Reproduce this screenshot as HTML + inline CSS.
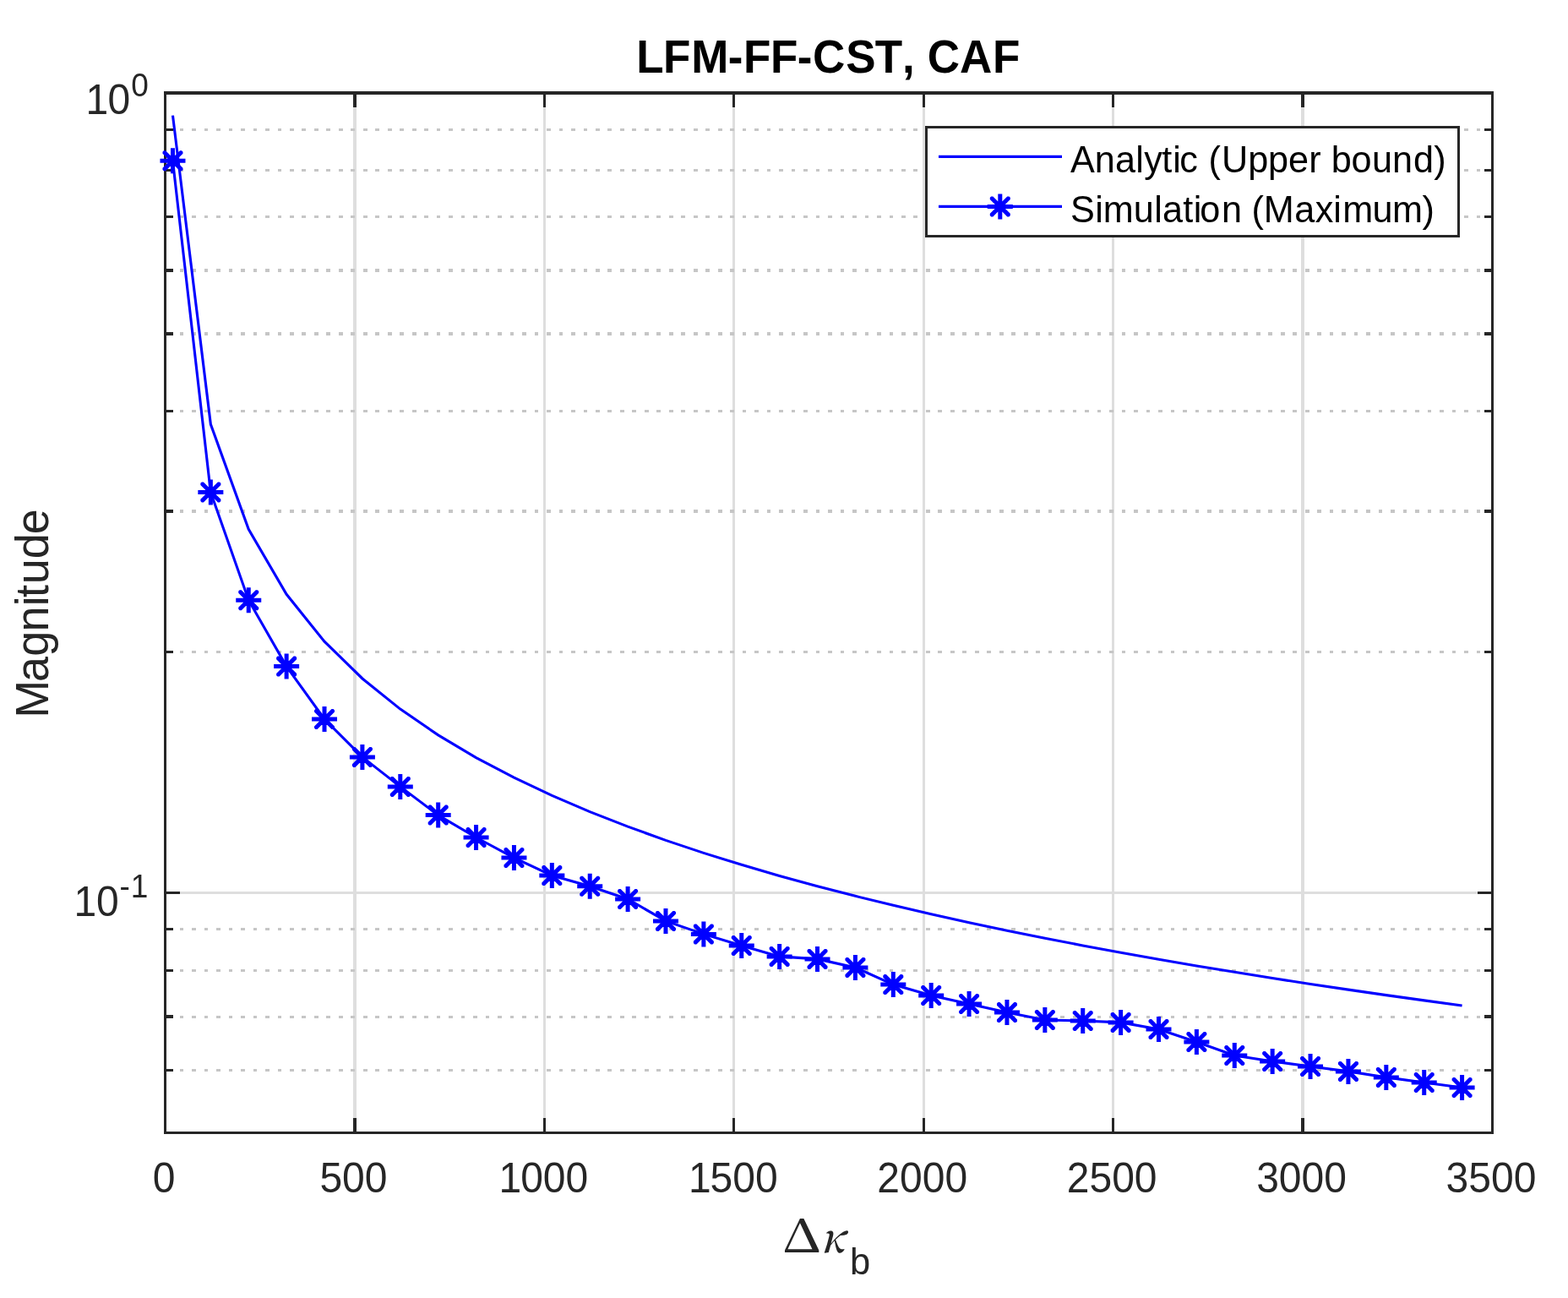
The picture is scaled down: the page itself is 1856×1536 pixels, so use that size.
<!DOCTYPE html>
<html><head><meta charset="utf-8"><title>LFM-FF-CST, CAF</title>
<style>html,body{margin:0;padding:0;background:#fff;}svg{display:block;}</style>
</head><body>
<svg width="1856" height="1536" viewBox="0 0 1856 1536">
<rect x="0" y="0" width="1856" height="1536" fill="#ffffff"/>
<g shape-rendering="crispEdges">
<line x1="419.93" y1="110" x2="419.93" y2="1340.5" stroke="#dedede" stroke-width="3.2"/>
<line x1="644.36" y1="110" x2="644.36" y2="1340.5" stroke="#dedede" stroke-width="3.2"/>
<line x1="868.79" y1="110" x2="868.79" y2="1340.5" stroke="#dedede" stroke-width="3.2"/>
<line x1="1093.21" y1="110" x2="1093.21" y2="1340.5" stroke="#dedede" stroke-width="3.2"/>
<line x1="1317.64" y1="110" x2="1317.64" y2="1340.5" stroke="#dedede" stroke-width="3.2"/>
<line x1="1542.07" y1="110" x2="1542.07" y2="1340.5" stroke="#dedede" stroke-width="3.2"/>
<line x1="195.5" y1="1056.5" x2="1766.5" y2="1056.5" stroke="#dedede" stroke-width="3.2"/>
<line x1="195.5" y1="153.31" x2="1766.5" y2="153.31" stroke="#c6c6c6" stroke-width="3.2" stroke-dasharray="4.7 9.78" stroke-dashoffset="11.78"/>
<line x1="195.5" y1="201.73" x2="1766.5" y2="201.73" stroke="#c6c6c6" stroke-width="3.2" stroke-dasharray="4.7 9.78" stroke-dashoffset="11.78"/>
<line x1="195.5" y1="256.61" x2="1766.5" y2="256.61" stroke="#c6c6c6" stroke-width="3.2" stroke-dasharray="4.7 9.78" stroke-dashoffset="11.78"/>
<line x1="195.5" y1="319.98" x2="1766.5" y2="319.98" stroke="#c6c6c6" stroke-width="3.2" stroke-dasharray="4.7 9.78" stroke-dashoffset="11.78"/>
<line x1="195.5" y1="394.92" x2="1766.5" y2="394.92" stroke="#c6c6c6" stroke-width="3.2" stroke-dasharray="4.7 9.78" stroke-dashoffset="11.78"/>
<line x1="195.5" y1="486.65" x2="1766.5" y2="486.65" stroke="#c6c6c6" stroke-width="3.2" stroke-dasharray="4.7 9.78" stroke-dashoffset="11.78"/>
<line x1="195.5" y1="604.9" x2="1766.5" y2="604.9" stroke="#c6c6c6" stroke-width="3.2" stroke-dasharray="4.7 9.78" stroke-dashoffset="11.78"/>
<line x1="195.5" y1="771.58" x2="1766.5" y2="771.58" stroke="#c6c6c6" stroke-width="3.2" stroke-dasharray="4.7 9.78" stroke-dashoffset="11.78"/>
<line x1="195.5" y1="1099.81" x2="1766.5" y2="1099.81" stroke="#c6c6c6" stroke-width="3.2" stroke-dasharray="4.7 9.78" stroke-dashoffset="11.78"/>
<line x1="195.5" y1="1148.23" x2="1766.5" y2="1148.23" stroke="#c6c6c6" stroke-width="3.2" stroke-dasharray="4.7 9.78" stroke-dashoffset="11.78"/>
<line x1="195.5" y1="1203.11" x2="1766.5" y2="1203.11" stroke="#c6c6c6" stroke-width="3.2" stroke-dasharray="4.7 9.78" stroke-dashoffset="11.78"/>
<line x1="195.5" y1="1266.48" x2="1766.5" y2="1266.48" stroke="#c6c6c6" stroke-width="3.2" stroke-dasharray="4.7 9.78" stroke-dashoffset="11.78"/>
<rect x="195.5" y="110" width="1571" height="1230.5" fill="none" stroke="#262626" stroke-width="3"/>
<line x1="194" y1="110.0" x2="1768" y2="110.0" stroke="#262626" stroke-width="3.8"/>
<line x1="195.5" y1="1340.5" x2="195.5" y2="1323.2" stroke="#262626" stroke-width="3.3"/>
<line x1="195.5" y1="110" x2="195.5" y2="127.3" stroke="#262626" stroke-width="3.3"/>
<line x1="419.93" y1="1340.5" x2="419.93" y2="1323.2" stroke="#262626" stroke-width="3.3"/>
<line x1="419.93" y1="110" x2="419.93" y2="127.3" stroke="#262626" stroke-width="3.3"/>
<line x1="644.36" y1="1340.5" x2="644.36" y2="1323.2" stroke="#262626" stroke-width="3.3"/>
<line x1="644.36" y1="110" x2="644.36" y2="127.3" stroke="#262626" stroke-width="3.3"/>
<line x1="868.79" y1="1340.5" x2="868.79" y2="1323.2" stroke="#262626" stroke-width="3.3"/>
<line x1="868.79" y1="110" x2="868.79" y2="127.3" stroke="#262626" stroke-width="3.3"/>
<line x1="1093.21" y1="1340.5" x2="1093.21" y2="1323.2" stroke="#262626" stroke-width="3.3"/>
<line x1="1093.21" y1="110" x2="1093.21" y2="127.3" stroke="#262626" stroke-width="3.3"/>
<line x1="1317.64" y1="1340.5" x2="1317.64" y2="1323.2" stroke="#262626" stroke-width="3.3"/>
<line x1="1317.64" y1="110" x2="1317.64" y2="127.3" stroke="#262626" stroke-width="3.3"/>
<line x1="1542.07" y1="1340.5" x2="1542.07" y2="1323.2" stroke="#262626" stroke-width="3.3"/>
<line x1="1542.07" y1="110" x2="1542.07" y2="127.3" stroke="#262626" stroke-width="3.3"/>
<line x1="1766.5" y1="1340.5" x2="1766.5" y2="1323.2" stroke="#262626" stroke-width="3.3"/>
<line x1="1766.5" y1="110" x2="1766.5" y2="127.3" stroke="#262626" stroke-width="3.3"/>
<line x1="195.5" y1="1056.5" x2="212.8" y2="1056.5" stroke="#262626" stroke-width="3.3"/>
<line x1="1766.5" y1="1056.5" x2="1749.2" y2="1056.5" stroke="#262626" stroke-width="3.3"/>
<line x1="195.5" y1="153.31" x2="204.8" y2="153.31" stroke="#262626" stroke-width="3.3"/>
<line x1="1766.5" y1="153.31" x2="1757.2" y2="153.31" stroke="#262626" stroke-width="3.3"/>
<line x1="195.5" y1="201.73" x2="204.8" y2="201.73" stroke="#262626" stroke-width="3.3"/>
<line x1="1766.5" y1="201.73" x2="1757.2" y2="201.73" stroke="#262626" stroke-width="3.3"/>
<line x1="195.5" y1="256.61" x2="204.8" y2="256.61" stroke="#262626" stroke-width="3.3"/>
<line x1="1766.5" y1="256.61" x2="1757.2" y2="256.61" stroke="#262626" stroke-width="3.3"/>
<line x1="195.5" y1="319.98" x2="204.8" y2="319.98" stroke="#262626" stroke-width="3.3"/>
<line x1="1766.5" y1="319.98" x2="1757.2" y2="319.98" stroke="#262626" stroke-width="3.3"/>
<line x1="195.5" y1="394.92" x2="204.8" y2="394.92" stroke="#262626" stroke-width="3.3"/>
<line x1="1766.5" y1="394.92" x2="1757.2" y2="394.92" stroke="#262626" stroke-width="3.3"/>
<line x1="195.5" y1="486.65" x2="204.8" y2="486.65" stroke="#262626" stroke-width="3.3"/>
<line x1="1766.5" y1="486.65" x2="1757.2" y2="486.65" stroke="#262626" stroke-width="3.3"/>
<line x1="195.5" y1="604.9" x2="204.8" y2="604.9" stroke="#262626" stroke-width="3.3"/>
<line x1="1766.5" y1="604.9" x2="1757.2" y2="604.9" stroke="#262626" stroke-width="3.3"/>
<line x1="195.5" y1="771.58" x2="204.8" y2="771.58" stroke="#262626" stroke-width="3.3"/>
<line x1="1766.5" y1="771.58" x2="1757.2" y2="771.58" stroke="#262626" stroke-width="3.3"/>
<line x1="195.5" y1="1099.81" x2="204.8" y2="1099.81" stroke="#262626" stroke-width="3.3"/>
<line x1="1766.5" y1="1099.81" x2="1757.2" y2="1099.81" stroke="#262626" stroke-width="3.3"/>
<line x1="195.5" y1="1148.23" x2="204.8" y2="1148.23" stroke="#262626" stroke-width="3.3"/>
<line x1="1766.5" y1="1148.23" x2="1757.2" y2="1148.23" stroke="#262626" stroke-width="3.3"/>
<line x1="195.5" y1="1203.11" x2="204.8" y2="1203.11" stroke="#262626" stroke-width="3.3"/>
<line x1="1766.5" y1="1203.11" x2="1757.2" y2="1203.11" stroke="#262626" stroke-width="3.3"/>
<line x1="195.5" y1="1266.48" x2="204.8" y2="1266.48" stroke="#262626" stroke-width="3.3"/>
<line x1="1766.5" y1="1266.48" x2="1757.2" y2="1266.48" stroke="#262626" stroke-width="3.3"/>
</g>
<polyline points="204.48,136.57 249.36,502.03 294.25,626.35 339.13,703.26 384.02,759.1 428.91,802.97 473.79,839.1 518.68,869.82 563.56,896.53 608.45,920.18 653.33,941.38 698.22,960.59 743.11,978.17 787.99,994.35 832.88,1009.36 877.76,1023.34 922.65,1036.43 967.53,1048.74 1012.42,1060.36 1057.31,1071.35 1102.19,1081.78 1147.08,1091.71 1191.96,1101.18 1236.85,1110.24 1281.73,1118.91 1326.62,1127.23 1371.51,1135.23 1416.39,1142.92 1461.28,1150.34 1506.16,1157.51 1551.05,1164.43 1595.93,1171.12 1640.82,1177.6 1685.71,1183.89 1730.59,1189.99" fill="none" stroke="#0000ff" stroke-width="3.1" stroke-linejoin="miter"/>
<polyline points="204.48,190.3 249.36,582.4 294.25,710.2 339.13,788.6 384.02,851 428.91,895.9 473.79,930.9 518.68,964.6 563.56,991 608.45,1015 653.33,1036.1 698.22,1048.8 743.11,1064 787.99,1089.9 832.88,1105.4 877.76,1119 922.65,1131.9 967.53,1134.9 1012.42,1144.9 1057.31,1165.1 1102.19,1178 1147.08,1188 1191.96,1198.1 1236.85,1207 1281.73,1208 1326.62,1209.9 1371.51,1218 1416.39,1233 1461.28,1249 1506.16,1256 1551.05,1262 1595.93,1267.9 1640.82,1274.9 1685.71,1281 1730.59,1287" fill="none" stroke="#0000ff" stroke-width="3.1" stroke-linejoin="miter"/>
<path d="M189.48 187.8H219.48V192.8H189.48ZM201.98 175.3H206.98V205.3H201.98ZM192.48 181.84L192.48 179.7L193.88 178.3L196.01 178.3L216.48 198.76L216.48 200.9L215.08 202.3L212.94 202.3ZM196.01 202.3L193.88 202.3L192.48 200.9L192.48 198.76L212.94 178.3L215.08 178.3L216.48 179.7L216.48 181.84ZM234.36 579.9H264.36V584.9H234.36ZM246.86 567.4H251.86V597.4H246.86ZM237.36 573.94L237.36 571.8L238.76 570.4L240.9 570.4L261.36 590.86L261.36 593L259.96 594.4L257.83 594.4ZM240.9 594.4L238.76 594.4L237.36 593L237.36 590.86L257.83 570.4L259.96 570.4L261.36 571.8L261.36 573.94ZM279.25 707.7H309.25V712.7H279.25ZM291.75 695.2H296.75V725.2H291.75ZM282.25 701.74L282.25 699.6L283.65 698.2L285.78 698.2L306.25 718.66L306.25 720.8L304.85 722.2L302.71 722.2ZM285.78 722.2L283.65 722.2L282.25 720.8L282.25 718.66L302.71 698.2L304.85 698.2L306.25 699.6L306.25 701.74ZM324.13 786.1H354.13V791.1H324.13ZM336.63 773.6H341.63V803.6H336.63ZM327.13 780.14L327.13 778L328.53 776.6L330.67 776.6L351.13 797.06L351.13 799.2L349.73 800.6L347.6 800.6ZM330.67 800.6L328.53 800.6L327.13 799.2L327.13 797.06L347.6 776.6L349.73 776.6L351.13 778L351.13 780.14ZM369.02 848.5H399.02V853.5H369.02ZM381.52 836H386.52V866H381.52ZM372.02 842.54L372.02 840.4L373.42 839L375.56 839L396.02 859.46L396.02 861.6L394.62 863L392.48 863ZM375.56 863L373.42 863L372.02 861.6L372.02 859.46L392.48 839L394.62 839L396.02 840.4L396.02 842.54ZM413.91 893.4H443.91V898.4H413.91ZM426.41 880.9H431.41V910.9H426.41ZM416.91 887.44L416.91 885.3L418.31 883.9L420.44 883.9L440.91 904.36L440.91 906.5L439.51 907.9L437.37 907.9ZM420.44 907.9L418.31 907.9L416.91 906.5L416.91 904.36L437.37 883.9L439.51 883.9L440.91 885.3L440.91 887.44ZM458.79 928.4H488.79V933.4H458.79ZM471.29 915.9H476.29V945.9H471.29ZM461.79 922.44L461.79 920.3L463.19 918.9L465.33 918.9L485.79 939.36L485.79 941.5L484.39 942.9L482.26 942.9ZM465.33 942.9L463.19 942.9L461.79 941.5L461.79 939.36L482.26 918.9L484.39 918.9L485.79 920.3L485.79 922.44ZM503.68 962.1H533.68V967.1H503.68ZM516.18 949.6H521.18V979.6H516.18ZM506.68 956.14L506.68 954L508.08 952.6L510.21 952.6L530.68 973.06L530.68 975.2L529.28 976.6L527.14 976.6ZM510.21 976.6L508.08 976.6L506.68 975.2L506.68 973.06L527.14 952.6L529.28 952.6L530.68 954L530.68 956.14ZM548.56 988.5H578.56V993.5H548.56ZM561.06 976H566.06V1006H561.06ZM551.56 982.54L551.56 980.4L552.96 979L555.1 979L575.56 999.46L575.56 1001.6L574.16 1003L572.03 1003ZM555.1 1003L552.96 1003L551.56 1001.6L551.56 999.46L572.03 979L574.16 979L575.56 980.4L575.56 982.54ZM593.45 1012.5H623.45V1017.5H593.45ZM605.95 1000H610.95V1030H605.95ZM596.45 1006.54L596.45 1004.4L597.85 1003L599.98 1003L620.45 1023.46L620.45 1025.6L619.05 1027L616.91 1027ZM599.98 1027L597.85 1027L596.45 1025.6L596.45 1023.46L616.91 1003L619.05 1003L620.45 1004.4L620.45 1006.54ZM638.33 1033.6H668.33V1038.6H638.33ZM650.83 1021.1H655.83V1051.1H650.83ZM641.33 1027.64L641.33 1025.5L642.73 1024.1L644.87 1024.1L665.33 1044.56L665.33 1046.7L663.93 1048.1L661.8 1048.1ZM644.87 1048.1L642.73 1048.1L641.33 1046.7L641.33 1044.56L661.8 1024.1L663.93 1024.1L665.33 1025.5L665.33 1027.64ZM683.22 1046.3H713.22V1051.3H683.22ZM695.72 1033.8H700.72V1063.8H695.72ZM686.22 1040.34L686.22 1038.2L687.62 1036.8L689.76 1036.8L710.22 1057.26L710.22 1059.4L708.82 1060.8L706.68 1060.8ZM689.76 1060.8L687.62 1060.8L686.22 1059.4L686.22 1057.26L706.68 1036.8L708.82 1036.8L710.22 1038.2L710.22 1040.34ZM728.11 1061.5H758.11V1066.5H728.11ZM740.61 1049H745.61V1079H740.61ZM731.11 1055.54L731.11 1053.4L732.51 1052L734.64 1052L755.11 1072.46L755.11 1074.6L753.71 1076L751.57 1076ZM734.64 1076L732.51 1076L731.11 1074.6L731.11 1072.46L751.57 1052L753.71 1052L755.11 1053.4L755.11 1055.54ZM772.99 1087.4H802.99V1092.4H772.99ZM785.49 1074.9H790.49V1104.9H785.49ZM775.99 1081.44L775.99 1079.3L777.39 1077.9L779.53 1077.9L799.99 1098.36L799.99 1100.5L798.59 1101.9L796.46 1101.9ZM779.53 1101.9L777.39 1101.9L775.99 1100.5L775.99 1098.36L796.46 1077.9L798.59 1077.9L799.99 1079.3L799.99 1081.44ZM817.88 1102.9H847.88V1107.9H817.88ZM830.38 1090.4H835.38V1120.4H830.38ZM820.88 1096.94L820.88 1094.8L822.28 1093.4L824.41 1093.4L844.88 1113.86L844.88 1116L843.48 1117.4L841.34 1117.4ZM824.41 1117.4L822.28 1117.4L820.88 1116L820.88 1113.86L841.34 1093.4L843.48 1093.4L844.88 1094.8L844.88 1096.94ZM862.76 1116.5H892.76V1121.5H862.76ZM875.26 1104H880.26V1134H875.26ZM865.76 1110.54L865.76 1108.4L867.16 1107L869.3 1107L889.76 1127.46L889.76 1129.6L888.36 1131L886.23 1131ZM869.3 1131L867.16 1131L865.76 1129.6L865.76 1127.46L886.23 1107L888.36 1107L889.76 1108.4L889.76 1110.54ZM907.65 1129.4H937.65V1134.4H907.65ZM920.15 1116.9H925.15V1146.9H920.15ZM910.65 1123.44L910.65 1121.3L912.05 1119.9L914.18 1119.9L934.65 1140.36L934.65 1142.5L933.25 1143.9L931.11 1143.9ZM914.18 1143.9L912.05 1143.9L910.65 1142.5L910.65 1140.36L931.11 1119.9L933.25 1119.9L934.65 1121.3L934.65 1123.44ZM952.53 1132.4H982.53V1137.4H952.53ZM965.03 1119.9H970.03V1149.9H965.03ZM955.53 1126.44L955.53 1124.3L956.93 1122.9L959.07 1122.9L979.53 1143.36L979.53 1145.5L978.13 1146.9L976 1146.9ZM959.07 1146.9L956.93 1146.9L955.53 1145.5L955.53 1143.36L976 1122.9L978.13 1122.9L979.53 1124.3L979.53 1126.44ZM997.42 1142.4H1027.42V1147.4H997.42ZM1009.92 1129.9H1014.92V1159.9H1009.92ZM1000.42 1136.44L1000.42 1134.3L1001.82 1132.9L1003.96 1132.9L1024.42 1153.36L1024.42 1155.5L1023.02 1156.9L1020.88 1156.9ZM1003.96 1156.9L1001.82 1156.9L1000.42 1155.5L1000.42 1153.36L1020.88 1132.9L1023.02 1132.9L1024.42 1134.3L1024.42 1136.44ZM1042.31 1162.6H1072.31V1167.6H1042.31ZM1054.81 1150.1H1059.81V1180.1H1054.81ZM1045.31 1156.64L1045.31 1154.5L1046.71 1153.1L1048.84 1153.1L1069.31 1173.56L1069.31 1175.7L1067.91 1177.1L1065.77 1177.1ZM1048.84 1177.1L1046.71 1177.1L1045.31 1175.7L1045.31 1173.56L1065.77 1153.1L1067.91 1153.1L1069.31 1154.5L1069.31 1156.64ZM1087.19 1175.5H1117.19V1180.5H1087.19ZM1099.69 1163H1104.69V1193H1099.69ZM1090.19 1169.54L1090.19 1167.4L1091.59 1166L1093.73 1166L1114.19 1186.46L1114.19 1188.6L1112.79 1190L1110.66 1190ZM1093.73 1190L1091.59 1190L1090.19 1188.6L1090.19 1186.46L1110.66 1166L1112.79 1166L1114.19 1167.4L1114.19 1169.54ZM1132.08 1185.5H1162.08V1190.5H1132.08ZM1144.58 1173H1149.58V1203H1144.58ZM1135.08 1179.54L1135.08 1177.4L1136.48 1176L1138.61 1176L1159.08 1196.46L1159.08 1198.6L1157.68 1200L1155.54 1200ZM1138.61 1200L1136.48 1200L1135.08 1198.6L1135.08 1196.46L1155.54 1176L1157.68 1176L1159.08 1177.4L1159.08 1179.54ZM1176.96 1195.6H1206.96V1200.6H1176.96ZM1189.46 1183.1H1194.46V1213.1H1189.46ZM1179.96 1189.64L1179.96 1187.5L1181.36 1186.1L1183.5 1186.1L1203.96 1206.56L1203.96 1208.7L1202.56 1210.1L1200.43 1210.1ZM1183.5 1210.1L1181.36 1210.1L1179.96 1208.7L1179.96 1206.56L1200.43 1186.1L1202.56 1186.1L1203.96 1187.5L1203.96 1189.64ZM1221.85 1204.5H1251.85V1209.5H1221.85ZM1234.35 1192H1239.35V1222H1234.35ZM1224.85 1198.54L1224.85 1196.4L1226.25 1195L1228.38 1195L1248.85 1215.46L1248.85 1217.6L1247.45 1219L1245.31 1219ZM1228.38 1219L1226.25 1219L1224.85 1217.6L1224.85 1215.46L1245.31 1195L1247.45 1195L1248.85 1196.4L1248.85 1198.54ZM1266.73 1205.5H1296.73V1210.5H1266.73ZM1279.23 1193H1284.23V1223H1279.23ZM1269.73 1199.54L1269.73 1197.4L1271.13 1196L1273.27 1196L1293.73 1216.46L1293.73 1218.6L1292.33 1220L1290.2 1220ZM1273.27 1220L1271.13 1220L1269.73 1218.6L1269.73 1216.46L1290.2 1196L1292.33 1196L1293.73 1197.4L1293.73 1199.54ZM1311.62 1207.4H1341.62V1212.4H1311.62ZM1324.12 1194.9H1329.12V1224.9H1324.12ZM1314.62 1201.44L1314.62 1199.3L1316.02 1197.9L1318.16 1197.9L1338.62 1218.36L1338.62 1220.5L1337.22 1221.9L1335.08 1221.9ZM1318.16 1221.9L1316.02 1221.9L1314.62 1220.5L1314.62 1218.36L1335.08 1197.9L1337.22 1197.9L1338.62 1199.3L1338.62 1201.44ZM1356.51 1215.5H1386.51V1220.5H1356.51ZM1369.01 1203H1374.01V1233H1369.01ZM1359.51 1209.54L1359.51 1207.4L1360.91 1206L1363.04 1206L1383.51 1226.46L1383.51 1228.6L1382.11 1230L1379.97 1230ZM1363.04 1230L1360.91 1230L1359.51 1228.6L1359.51 1226.46L1379.97 1206L1382.11 1206L1383.51 1207.4L1383.51 1209.54ZM1401.39 1230.5H1431.39V1235.5H1401.39ZM1413.89 1218H1418.89V1248H1413.89ZM1404.39 1224.54L1404.39 1222.4L1405.79 1221L1407.93 1221L1428.39 1241.46L1428.39 1243.6L1426.99 1245L1424.86 1245ZM1407.93 1245L1405.79 1245L1404.39 1243.6L1404.39 1241.46L1424.86 1221L1426.99 1221L1428.39 1222.4L1428.39 1224.54ZM1446.28 1246.5H1476.28V1251.5H1446.28ZM1458.78 1234H1463.78V1264H1458.78ZM1449.28 1240.54L1449.28 1238.4L1450.68 1237L1452.81 1237L1473.28 1257.46L1473.28 1259.6L1471.88 1261L1469.74 1261ZM1452.81 1261L1450.68 1261L1449.28 1259.6L1449.28 1257.46L1469.74 1237L1471.88 1237L1473.28 1238.4L1473.28 1240.54ZM1491.16 1253.5H1521.16V1258.5H1491.16ZM1503.66 1241H1508.66V1271H1503.66ZM1494.16 1247.54L1494.16 1245.4L1495.56 1244L1497.7 1244L1518.16 1264.46L1518.16 1266.6L1516.76 1268L1514.63 1268ZM1497.7 1268L1495.56 1268L1494.16 1266.6L1494.16 1264.46L1514.63 1244L1516.76 1244L1518.16 1245.4L1518.16 1247.54ZM1536.05 1259.5H1566.05V1264.5H1536.05ZM1548.55 1247H1553.55V1277H1548.55ZM1539.05 1253.54L1539.05 1251.4L1540.45 1250L1542.58 1250L1563.05 1270.46L1563.05 1272.6L1561.65 1274L1559.51 1274ZM1542.58 1274L1540.45 1274L1539.05 1272.6L1539.05 1270.46L1559.51 1250L1561.65 1250L1563.05 1251.4L1563.05 1253.54ZM1580.93 1265.4H1610.93V1270.4H1580.93ZM1593.43 1252.9H1598.43V1282.9H1593.43ZM1583.93 1259.44L1583.93 1257.3L1585.33 1255.9L1587.47 1255.9L1607.93 1276.36L1607.93 1278.5L1606.53 1279.9L1604.4 1279.9ZM1587.47 1279.9L1585.33 1279.9L1583.93 1278.5L1583.93 1276.36L1604.4 1255.9L1606.53 1255.9L1607.93 1257.3L1607.93 1259.44ZM1625.82 1272.4H1655.82V1277.4H1625.82ZM1638.32 1259.9H1643.32V1289.9H1638.32ZM1628.82 1266.44L1628.82 1264.3L1630.22 1262.9L1632.36 1262.9L1652.82 1283.36L1652.82 1285.5L1651.42 1286.9L1649.28 1286.9ZM1632.36 1286.9L1630.22 1286.9L1628.82 1285.5L1628.82 1283.36L1649.28 1262.9L1651.42 1262.9L1652.82 1264.3L1652.82 1266.44ZM1670.71 1278.5H1700.71V1283.5H1670.71ZM1683.21 1266H1688.21V1296H1683.21ZM1673.71 1272.54L1673.71 1270.4L1675.11 1269L1677.24 1269L1697.71 1289.46L1697.71 1291.6L1696.31 1293L1694.17 1293ZM1677.24 1293L1675.11 1293L1673.71 1291.6L1673.71 1289.46L1694.17 1269L1696.31 1269L1697.71 1270.4L1697.71 1272.54ZM1715.59 1284.5H1745.59V1289.5H1715.59ZM1728.09 1272H1733.09V1302H1728.09ZM1718.59 1278.54L1718.59 1276.4L1719.99 1275L1722.13 1275L1742.59 1295.46L1742.59 1297.6L1741.19 1299L1739.06 1299ZM1722.13 1299L1719.99 1299L1718.59 1297.6L1718.59 1295.46L1739.06 1275L1741.19 1275L1742.59 1276.4L1742.59 1278.54Z" fill="#0000ff" stroke="none"/>
<rect x="1096.5" y="150.0" width="629.9" height="129.9" fill="#ffffff" stroke="#262626" stroke-width="3" shape-rendering="crispEdges"/>
<line x1="1111" y1="185.4" x2="1257" y2="185.4" stroke="#0000ff" stroke-width="3.1"/>
<line x1="1111" y1="244.4" x2="1257" y2="244.4" stroke="#0000ff" stroke-width="3.1"/>
<path d="M1168.8 241.9H1198.8V246.9H1168.8ZM1181.3 229.4H1186.3V259.4H1181.3ZM1171.8 235.94L1171.8 233.8L1173.2 232.4L1175.34 232.4L1195.8 252.86L1195.8 255L1194.4 256.4L1192.26 256.4ZM1175.34 256.4L1173.2 256.4L1171.8 255L1171.8 252.86L1192.26 232.4L1194.4 232.4L1195.8 233.8L1195.8 235.94Z" fill="#0000ff" stroke="none"/>
<text transform="translate(0 203.6) scale(1 1.03)" x="1266.91 1295.84 1320.01 1344.34 1354.19 1375.26 1388.29 1396.31 1417.94 1430.53 1446.12 1477.2 1501.05 1525 1549.2 1563.6 1575.85 1599.39 1624.06 1647.99 1672.94 1697.2" y="0" font-family='"Liberation Sans", Arial, Helvetica, sans-serif' font-size="43.2" font-weight="normal" fill="#000000">Analytic (Upper bound)</text>
<text transform="translate(0 262.6) scale(1 1.03)" x="1266.96 1296.24 1305.8 1341.76 1366.24 1375.91 1400.16 1412.74 1420.34 1446.04 1470.09 1481.58 1495.85 1532.31 1556.74 1578.29 1589.25 1624.41 1648 1683.45" y="0" font-family='"Liberation Sans", Arial, Helvetica, sans-serif' font-size="43.2" font-weight="normal" fill="#000000">Simulation (Maximum)</text>
<text transform="translate(0 1411) scale(1 1.03)" x="180.65" y="0" font-family='"Liberation Sans", Arial, Helvetica, sans-serif' font-size="48" font-weight="normal" fill="#262626">0</text>
<text transform="translate(0 1411) scale(1 1.03)" x="378.39 405.08 431.78" y="0" font-family='"Liberation Sans", Arial, Helvetica, sans-serif' font-size="48" font-weight="normal" fill="#262626">500</text>
<text transform="translate(0 1411) scale(1 1.03)" x="590.47 616.16 642.86 669.55" y="0" font-family='"Liberation Sans", Arial, Helvetica, sans-serif' font-size="48" font-weight="normal" fill="#262626">1000</text>
<text transform="translate(0 1411) scale(1 1.03)" x="814.9 840.59 867.29 893.98" y="0" font-family='"Liberation Sans", Arial, Helvetica, sans-serif' font-size="48" font-weight="normal" fill="#262626">1500</text>
<text transform="translate(0 1411) scale(1 1.03)" x="1038.32 1065.02 1091.71 1118.41" y="0" font-family='"Liberation Sans", Arial, Helvetica, sans-serif' font-size="48" font-weight="normal" fill="#262626">2000</text>
<text transform="translate(0 1411) scale(1 1.03)" x="1262.75 1289.45 1316.14 1342.84" y="0" font-family='"Liberation Sans", Arial, Helvetica, sans-serif' font-size="48" font-weight="normal" fill="#262626">2500</text>
<text transform="translate(0 1411) scale(1 1.03)" x="1487.18 1513.88 1540.57 1567.27" y="0" font-family='"Liberation Sans", Arial, Helvetica, sans-serif' font-size="48" font-weight="normal" fill="#262626">3000</text>
<text transform="translate(0 1411) scale(1 1.03)" x="1711.61 1738.3 1765 1791.7" y="0" font-family='"Liberation Sans", Arial, Helvetica, sans-serif' font-size="48" font-weight="normal" fill="#262626">3500</text>
<text transform="translate(0 134.8) scale(1 1.03)" x="101.6 127.5" y="0" font-family='"Liberation Sans", Arial, Helvetica, sans-serif' font-size="48" font-weight="normal" fill="#262626">10</text>
<text transform="translate(155.15 113.5) scale(1 1.03)" x="0" y="0" font-family='"Liberation Sans", Arial, Helvetica, sans-serif' font-size="37" font-weight="normal" font-style="normal" text-anchor="start" fill="#262626">0</text>
<text transform="translate(0 1083.7) scale(1 1.03)" x="87.4 114" y="0" font-family='"Liberation Sans", Arial, Helvetica, sans-serif' font-size="48" font-weight="normal" fill="#262626">10</text>
<text transform="translate(0 1061.7) scale(1 1.03)" x="141.5 154.7" y="0" font-family='"Liberation Sans", Arial, Helvetica, sans-serif' font-size="37" font-weight="normal" fill="#262626">-1</text>
<text transform="translate(0 85.8) scale(1 1.063)" x="753.27 784.96 818.34 861.64 880.01 912.01 943.64 962.11 1001.23 1035.76 1068.12 1082.85 1097.86 1135.97 1174.96" y="0" font-family='"Liberation Sans", Arial, Helvetica, sans-serif' font-size="53" font-weight="bold" fill="#000000">LFM-FF-CST, CAF</text>
<text transform="translate(57.0 0) rotate(-90) scale(1 1.045)" x="-849.74 -807.02 -776.88 -747.51 -717.35 -707.1 -691.35 -661.17 -632.14" y="0" font-family='"Liberation Sans", Arial, Helvetica, sans-serif' font-size="54" fill="#262626">Magnitude</text>
<text transform="translate(925.7 1481.8) scale(1.253 1)" x="0" y="0" font-family='"Noto Serif CJK SC", "Liberation Serif", serif' font-weight="500" font-size="54" fill="#262626">&#916;</text>
<text x="971.3" y="1482.2" font-family='"Noto Serif CJK SC", "Liberation Serif", serif' font-style="italic" font-weight="600" font-size="47.5" fill="#262626">&#954;</text>
<text transform="translate(1006 1507.5) scale(1 1.03)" x="0" y="0" font-family='"Liberation Sans", Arial, Helvetica, sans-serif' font-size="43.5" font-weight="normal" font-style="normal" text-anchor="start" fill="#262626">b</text>
</svg>
</body></html>
